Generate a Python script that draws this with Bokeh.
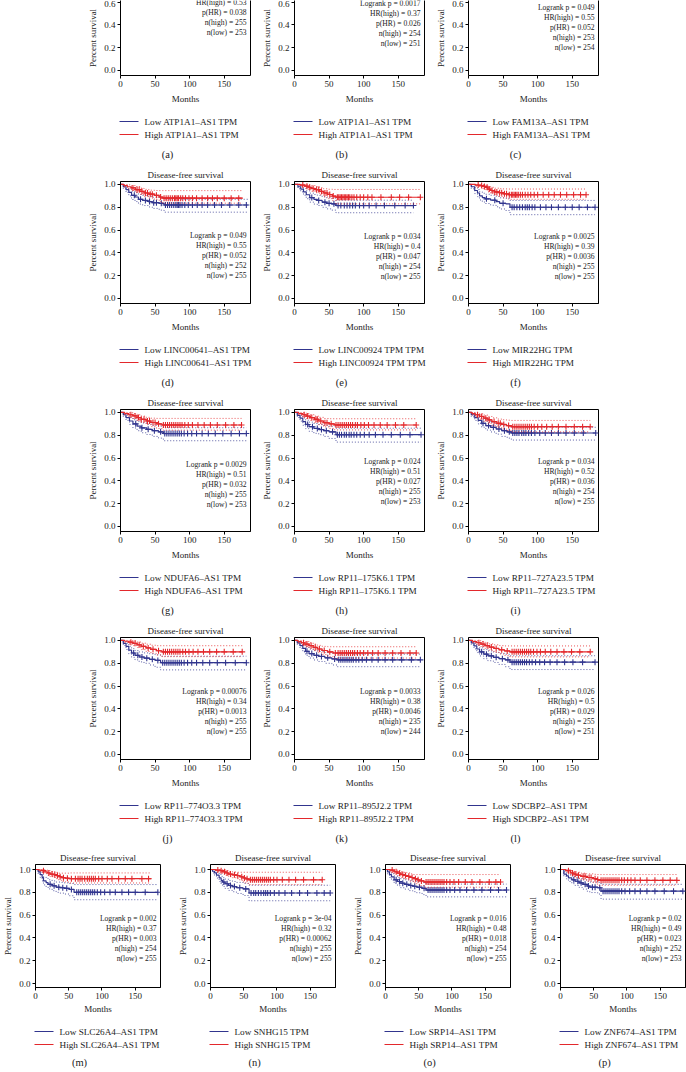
from bokeh.plotting import figure
from bokeh.layouts import column, row
from bokeh.models import Spacer, Range1d, FixedTicker, PrintfTickFormatter, LinearAxis
from bokeh.embed import file_html
from bokeh.resources import INLINE
from bokeh.core.properties import value

# ---------------- data ----------------
LETTERS = list("abcdefghijklmnop")
GENES = ["ATP1A1–AS1", "ATP1A1–AS1", "FAM13A–AS1", "LINC00641–AS1", "LINC00924 TPM",
         "MIR22HG", "NDUFA6–AS1", "RP11–175K6.1", "RP11–727A23.5", "RP11–774O3.3",
         "RP11–895J2.2", "SDCBP2–AS1", "SLC26A4–AS1", "SNHG15", "SRP14–AS1", "ZNF674–AS1"]
LOGRANK = ["", "0.0017", "0.049", "0.049", "0.034", "0.0025", "0.0029", "0.024", "0.034",
           "0.00076", "0.0033", "0.026", "0.002", "3e-04", "0.016", "0.02"]
HR = ["0.53", "0.37", "0.55", "0.55", "0.4", "0.39", "0.51", "0.51", "0.52", "0.34", "0.38",
      "0.5", "0.37", "0.32", "0.48", "0.49"]
P_HR = ["0.038", "0.026", "0.052", "0.052", "0.047", "0.0036", "0.032", "0.027", "0.036",
        "0.0013", "0.0046", "0.029", "0.003", "0.00062", "0.018", "0.023"]
N_HIGH = [255, 254, 253, 252, 254, 255, 255, 255, 254, 255, 235, 255, 254, 255, 254, 252]
N_LOW = [253, 251, 254, 255, 255, 255, 253, 253, 255, 255, 244, 251, 255, 255, 255, 253]

# Kaplan-Meier steps: (month, survival, lower CI, upper CI)
A_HIGH = []; A_LOW = []; A_HIGH_CENS = []; A_LOW_CENS = []
B_HIGH = []; B_LOW = []; B_HIGH_CENS = []; B_LOW_CENS = []
C_HIGH = []; C_LOW = []; C_HIGH_CENS = []; C_LOW_CENS = []

D_HIGH = [(0,1,1,1),(5,.99,.978,1),(10,.98,.962,.997),(16,.97,.948,.99),(22,.955,.93,.98),(28,.94,.912,.968),(34,.925,.894,.957),(41,.915,.881,.95),(49,.905,.867,.947),(56,.89,.85,.946),(61,.88,.836,.946),(177,.88,.836,.946)]
D_LOW = [(0,1,1,1),(4,.98,.962,.997),(8,.955,.93,.98),(12,.93,.9,.96),(16,.905,.868,.94),(21,.89,.85,.928),(26,.87,.828,.912),(32,.86,.815,.904),(40,.85,.803,.896),(46,.84,.79,.888),(56,.835,.775,.884),(63,.82,.757,.87),(184,.82,.757,.87)]
D_HIGH_CENS = [18,24,27,31,36,39,43,46,52,58,63,66,69,72,75,78,80,82,84,87,90,94,99,104,110,118,126,133,140,150,160,171]
D_LOW_CENS = [20,29,36,42,48,52,59,65,68,71,74,77,80,82,84,86,89,93,98,104,111,118,126,136,146,158,171,182]

E_HIGH = [(0,1,1,1),(8,.995,.985,1),(15,.985,.97,1),(20,.975,.955,.995),(25,.965,.94,.99),(30,.955,.928,.982),(36,.94,.91,.972),(42,.925,.892,.962),(48,.912,.876,.958),(55,.898,.858,.956),(60,.888,.83,.956),(182,.888,.83,.956)]
E_LOW = [(0,1,1,1),(5,.98,.962,.997),(9,.96,.935,.984),(13,.935,.905,.965),(17,.91,.875,.945),(22,.885,.845,.924),(28,.87,.828,.912),(33,.86,.816,.904),(40,.845,.8,.892),(46,.835,.786,.884),(54,.83,.775,.88),(60,.815,.752,.862),(172,.815,.752,.862)]
E_HIGH_CENS = [12,18,22,27,32,35,39,44,47,51,56,62,64,66,68,70,72,74,76,78,80,83,86,90,95,100,106,112,125,140,152,165,182]
E_LOW_CENS = [25,35,44,50,57,63,67,72,76,80,84,88,94,100,108,118,130,145,160,172]

F_HIGH = [(0,1,1,1),(10,.995,.985,1),(16,.99,.978,1),(20,.983,.966,.998),(24,.975,.955,.993),(28,.96,.935,.984),(32,.947,.92,.975),(38,.935,.904,.967),(44,.928,.895,.963),(50,.918,.882,.961),(58,.91,.87,.96),(170,.91,.87,.96)]
F_LOW = [(0,1,1,1),(4,.98,.962,.997),(9,.947,.92,.973),(13,.925,.893,.956),(16,.9,.864,.936),(20,.885,.846,.923),(24,.874,.833,.914),(32,.862,.818,.905),(40,.85,.804,.895),(45,.835,.785,.883),(54,.83,.772,.88),(60,.80,.735,.86),(183,.80,.735,.86)]
F_HIGH_CENS = [14,19,23,27,30,34,38,41,45,48,52,55,59,62,64,66,68,70,72,75,78,82,86,90,95,100,108,116,124,133,142,152,162,170]
F_LOW_CENS = [26,38,50,63,66,70,74,78,82,85,88,92,96,104,112,120,130,140,150,160,172,183]

G_HIGH = [(0,1,1,1),(6,.99,.978,1),(12,.98,.963,.997),(18,.97,.948,.99),(24,.955,.93,.98),(30,.94,.912,.968),(37,.925,.893,.957),(44,.912,.876,.95),(52,.9,.86,.948),(60,.89,.845,.948),(175,.89,.845,.948)]
G_LOW = [(0,1,1,1),(4,.98,.962,.997),(8,.955,.93,.98),(13,.925,.895,.955),(18,.9,.864,.936),(24,.88,.84,.92),(30,.865,.822,.908),(38,.852,.807,.897),(46,.84,.79,.887),(55,.83,.775,.879),(62,.815,.752,.866),(182,.815,.752,.866)]
G_HIGH_CENS = [15,21,26,30,34,39,42,47,50,55,62,65,68,71,74,77,80,83,86,89,93,98,104,112,121,130,140,152,164,175]
G_LOW_CENS = [22,31,40,49,58,64,67,70,73,76,79,82,85,88,92,97,103,110,118,127,137,148,160,172,182]

H_HIGH = [(0,1,1,1),(6,.99,.978,1),(12,.98,.963,.997),(17,.968,.946,.989),(23,.955,.93,.98),(29,.94,.912,.968),(35,.925,.893,.957),(42,.91,.874,.947),(50,.9,.86,.945),(58,.89,.847,.945),(176,.89,.847,.945)]
H_LOW = [(0,1,1,1),(4,.975,.956,.995),(8,.95,.924,.976),(12,.92,.888,.952),(16,.895,.858,.932),(21,.875,.835,.915),(28,.86,.817,.903),(35,.85,.805,.895),(42,.84,.79,.887),(50,.83,.772,.879),(60,.805,.74,.862),(183,.805,.74,.862)]
H_HIGH_CENS = [14,19,25,31,33,38,44,47,53,60,63,66,69,72,75,78,81,84,88,91,96,101,107,115,124,134,146,158,176]
H_LOW_CENS = [19,26,33,39,46,55,62,65,68,72,75,79,82,86,90,95,101,108,117,128,140,153,167,183]

I_HIGH = [(0,1,1,1),(5,.99,.978,1),(10,.98,.962,.997),(16,.965,.942,.988),(22,.95,.922,.977),(28,.935,.905,.965),(34,.92,.886,.953),(41,.905,.868,.942),(48,.895,.855,.936),(55,.885,.842,.932),(62,.875,.83,.93),(176,.875,.83,.93)]
I_LOW = [(0,1,1,1),(4,.98,.962,.997),(9,.955,.93,.98),(14,.93,.9,.96),(19,.905,.87,.94),(25,.885,.846,.924),(32,.87,.829,.911),(40,.855,.81,.899),(48,.84,.79,.887),(56,.83,.775,.879),(62,.82,.758,.87),(184,.82,.758,.87)]
I_HIGH_CENS = [13,19,25,30,37,43,46,51,58,64,67,70,73,76,79,82,85,88,91,95,100,106,113,121,130,141,153,165,176]
I_LOW_CENS = [21,29,36,44,52,59,64,67,70,73,77,80,83,87,91,96,103,111,120,130,141,153,166,184]

J_HIGH = [(0,1,1,1),(6,.993,.982,1),(12,.985,.97,1),(18,.975,.955,.995),(24,.962,.938,.986),(30,.948,.92,.976),(37,.935,.903,.967),(44,.922,.887,.958),(52,.91,.872,.954),(60,.9,.858,.954),(176,.9,.858,.954)]
J_LOW = [(0,1,1,1),(4,.975,.956,.995),(8,.948,.921,.975),(12,.915,.882,.948),(16,.89,.852,.928),(21,.87,.83,.911),(27,.855,.812,.899),(34,.845,.8,.891),(42,.835,.785,.883),(50,.825,.765,.875),(58,.805,.742,.862),(182,.805,.742,.862)]
J_HIGH_CENS = [15,21,27,33,40,47,55,62,65,68,71,74,77,80,83,86,90,94,99,105,112,120,129,139,150,163,176]
J_LOW_CENS = [19,25,31,38,46,54,61,64,67,70,73,76,79,82,85,88,92,97,103,110,119,129,140,152,166,182]

K_HIGH = [(0,1,1,1),(5,.99,.978,1),(10,.98,.962,.997),(15,.968,.946,.99),(21,.955,.93,.98),(27,.94,.912,.968),(33,.925,.893,.957),(40,.912,.876,.948),(48,.9,.86,.945),(56,.89,.846,.945),(176,.89,.846,.945)]
K_LOW = [(0,1,1,1),(4,.978,.96,.996),(8,.955,.93,.98),(12,.93,.9,.96),(16,.905,.87,.94),(21,.885,.846,.924),(28,.87,.829,.911),(35,.86,.816,.904),(44,.848,.8,.894),(54,.838,.785,.886),(62,.83,.77,.88),(182,.83,.77,.88)]
K_HIGH_CENS = [13,18,24,30,36,43,51,59,63,66,69,72,75,78,81,84,87,91,95,100,106,113,121,131,142,154,167,176]
K_LOW_CENS = [18,25,32,39,48,58,64,67,70,73,76,79,82,85,89,93,98,104,112,121,131,142,155,169,182]

L_HIGH = [(0,1,1,1),(6,.99,.978,1),(12,.98,.963,.997),(18,.968,.946,.99),(24,.955,.93,.98),(30,.942,.913,.97),(37,.93,.897,.962),(44,.918,.882,.955),(52,.908,.869,.952),(60,.9,.856,.952),(176,.9,.856,.952)]
L_LOW = [(0,1,1,1),(4,.978,.96,.996),(8,.952,.926,.978),(12,.925,.894,.956),(16,.9,.864,.936),(22,.88,.84,.92),(28,.865,.822,.908),(36,.852,.807,.897),(44,.84,.79,.887),(53,.83,.77,.879),(60,.81,.745,.866),(183,.81,.745,.866)]
L_HIGH_CENS = [15,21,27,33,40,48,56,63,66,69,72,75,78,81,84,87,90,94,99,104,111,119,128,138,149,161,176]
L_LOW_CENS = [19,26,33,40,49,57,63,66,69,72,75,78,81,84,88,92,97,103,110,118,128,139,151,165,183]

M_HIGH = [(0,1,1,1),(5,.995,.985,1),(10,.99,.977,1),(14,.98,.963,.996),(18,.97,.95,.99),(22,.96,.937,.983),(27,.955,.93,.98),(31,.947,.92,.975),(35,.937,.907,.968),(39,.928,.896,.968),(45,.924,.89,.968),(51,.92,.882,.97),(174,.92,.882,.97)]
M_LOW = [(0,1,1,1),(4,.98,.962,.997),(7,.956,.93,.98),(10,.93,.9,.96),(12,.9,.865,.935),(16,.885,.847,.923),(19,.87,.83,.91),(25,.857,.814,.9),(31,.845,.8,.89),(37,.84,.793,.887),(43,.835,.785,.883),(51,.825,.77,.877),(58,.80,.735,.868),(184,.80,.735,.868)]
M_HIGH_CENS = [12,20,25,29,33,37,42,48,54,60,64,67,70,74,78,81,84,87,90,95,100,108,115,125,135,145,160,170]
M_LOW_CENS = [22,28,35,41,47,54,62,65,68,71,74,77,80,83,86,89,93,98,104,112,120,130,140,150,165,184]

N_HIGH_S = [(0,1,1,1),(8,.995,.985,1),(14,.99,.977,1),(18,.98,.963,.996),(23,.97,.95,.99),(27,.96,.937,.983),(33,.953,.928,.978),(39,.947,.92,.976),(44,.936,.905,.976),(49,.926,.892,.976),(53,.918,.88,.976),(57,.91,.868,.976),(168,.91,.868,.976)]
N_LOW_S = [(0,1,1,1),(3,.985,.97,1),(6,.97,.95,.99),(9,.95,.925,.975),(13,.926,.895,.957),(16,.905,.87,.94),(18,.89,.852,.928),(22,.875,.834,.916),(27,.86,.817,.903),(33,.85,.805,.895),(39,.84,.79,.887),(49,.83,.772,.878),(58,.794,.726,.862),(180,.794,.726,.862)]
N_HIGH_CENS = [11,16,21,25,30,36,41,47,51,55,60,63,66,69,72,75,78,81,84,87,90,95,100,108,118,128,140,155,168]
N_LOW_CENS = [20,25,30,36,44,53,61,65,68,72,76,80,83,86,90,96,103,112,122,134,146,160,171,180]

O_HIGH = [(0,1,1,1),(7,.995,.985,1),(13,.98,.963,.996),(18,.968,.946,.99),(23,.956,.93,.98),(28,.948,.92,.975),(32,.94,.91,.97),(37,.93,.897,.962),(42,.92,.885,.956),(47,.91,.872,.956),(51,.9,.86,.956),(58,.89,.845,.956),(173,.89,.845,.956)]
O_LOW = [(0,1,1,1),(3,.98,.962,.997),(6,.956,.93,.98),(9,.935,.906,.963),(13,.91,.877,.943),(18,.895,.858,.93),(23,.88,.84,.918),(29,.87,.828,.91),(35,.86,.815,.903),(41,.853,.806,.897),(47,.845,.796,.892),(55,.835,.78,.885),(61,.82,.76,.872),(182,.82,.76,.872)]
O_HIGH_CENS = [10,16,21,26,30,35,40,45,49,54,61,64,67,70,73,76,79,82,85,88,92,97,103,110,120,130,142,156,166,173]
O_LOW_CENS = [16,21,26,32,38,44,51,58,64,67,70,73,76,79,82,85,88,92,97,104,112,122,133,145,158,170,182]

P_HIGH = [(0,1,1,1),(8,.99,.978,1),(15,.97,.948,.99),(20,.96,.936,.983),(24,.95,.923,.976),(31,.94,.91,.968),(39,.93,.897,.962),(49,.92,.884,.958),(54,.912,.872,.956),(58,.905,.862,.956),(175,.905,.862,.956)]
P_LOW = [(0,1,1,1),(5,.96,.94,.98),(9,.945,.918,.97),(12,.926,.895,.955),(17,.91,.876,.942),(22,.897,.86,.932),(28,.883,.843,.92),(34,.87,.828,.91),(40,.855,.81,.898),(44,.845,.798,.89),(56,.84,.785,.888),(61,.81,.74,.87),(184,.81,.74,.87)]
P_HIGH_CENS = [12,18,22,27,34,37,43,46,52,56,61,64,67,70,73,76,79,82,85,88,92,96,101,106,112,120,130,142,154,165,175]
P_LOW_CENS = [20,26,31,37,42,48,52,59,64,67,70,73,76,79,82,85,88,92,97,104,112,120,130,142,156,170,184]

X_TICKS = [0, 50, 100, 150]
Y_TICKS = [0.0, 0.2, 0.4, 0.6, 0.8, 1.0]

CURVES = [
    (A_HIGH, A_LOW, A_HIGH_CENS, A_LOW_CENS), (B_HIGH, B_LOW, B_HIGH_CENS, B_LOW_CENS),
    (C_HIGH, C_LOW, C_HIGH_CENS, C_LOW_CENS), (D_HIGH, D_LOW, D_HIGH_CENS, D_LOW_CENS),
    (E_HIGH, E_LOW, E_HIGH_CENS, E_LOW_CENS), (F_HIGH, F_LOW, F_HIGH_CENS, F_LOW_CENS),
    (G_HIGH, G_LOW, G_HIGH_CENS, G_LOW_CENS), (H_HIGH, H_LOW, H_HIGH_CENS, H_LOW_CENS),
    (I_HIGH, I_LOW, I_HIGH_CENS, I_LOW_CENS), (J_HIGH, J_LOW, J_HIGH_CENS, J_LOW_CENS),
    (K_HIGH, K_LOW, K_HIGH_CENS, K_LOW_CENS), (L_HIGH, L_LOW, L_HIGH_CENS, L_LOW_CENS),
    (M_HIGH, M_LOW, M_HIGH_CENS, M_LOW_CENS), (N_HIGH_S, N_LOW_S, N_HIGH_CENS, N_LOW_CENS),
    (O_HIGH, O_LOW, O_HIGH_CENS, O_LOW_CENS), (P_HIGH, P_LOW, P_HIGH_CENS, P_LOW_CENS),
]

# ---------------- style / layout ----------------
FONT = "Liberation Serif"
TXT = "#222222"
RED = "#E3282C"
BLUE = "#31358E"
XMAX = 188
STAT_TOP = [0.682, 0.588, 0.553, 0.553, 0.544, 0.544, 0.544, 0.57, 0.57,
            0.553, 0.553, 0.553, 0.57, 0.57, 0.57, 0.57]
STAT_STEP = 0.087


def surv_at(curve, t):
    s = 1.0
    for c in curve:
        if c[0] <= t:
            s = c[1]
    return s


def draw_curve(p, curve, cens, color):
    t = [c[0] for c in curve]
    s = [c[1] for c in curve]
    lo = [c[2] for c in curve]
    up = [c[3] for c in curve]
    p.step(x=t, y=lo, mode="after", line_color=color, line_width=0.8, line_dash="1 2")
    p.step(x=t, y=up, mode="after", line_color=color, line_width=0.8, line_dash="1 2")
    p.step(x=t, y=s, mode="after", line_color=color, line_width=1.2)
    if cens:
        p.scatter(x=cens, y=[surv_at(curve, c) for c in cens], marker="cross", size=6,
                  line_color=color, line_width=1.1)


def make_panel(i, W, H, y0, y1, L, R, T, B, top_cut, lab_standoff):
    p = figure(frame_width=W, frame_height=H, x_range=Range1d(0, XMAX),
               y_range=Range1d(y0, y1), output_backend="svg", toolbar_location=None,
               min_border_left=L, min_border_right=R, min_border_top=T,
               min_border_bottom=B)
    p.grid.visible = False
    p.background_fill_color = "white"
    p.border_fill_color = "white"
    xa = p.below[0]
    ya = p.left[0]
    for ax in (xa, ya):
        ax.axis_line_color = "black"
        ax.axis_line_width = 1
        ax.major_tick_line_color = "black"
        ax.major_tick_out = 3
        ax.major_tick_in = 0
        ax.minor_tick_line_color = None
        ax.major_label_standoff = 2
        ax.major_label_text_font = FONT
        ax.major_label_text_font_size = "9px"
        ax.major_label_text_color = TXT
        ax.axis_label_text_font = FONT
        ax.axis_label_text_font_size = "9px"
        ax.axis_label_text_font_style = "normal"
        ax.axis_label_text_color = TXT
    xa.ticker = FixedTicker(ticks=X_TICKS)
    ya.ticker = FixedTicker(ticks=Y_TICKS)
    ya.formatter = PrintfTickFormatter(format="%.1f")
    xa.axis_label = "Months"
    xa.axis_label_standoff = lab_standoff
    ya.axis_label = "Percent survival"
    ya.axis_label_standoff = 3
    if top_cut:
        p.outline_line_color = None
        ra = LinearAxis(ticker=FixedTicker(ticks=[]), axis_line_color="black",
                        major_tick_line_color=None, minor_tick_line_color=None,
                        major_label_text_font_size="0px")
        p.add_layout(ra, "right")
    else:
        p.outline_line_color = "black"
        p.outline_line_width = 1
        p.outline_line_alpha = 1.0
        p.title.text = "Disease-free survival"
        p.title.align = "center"
        p.title.text_font = FONT
        p.title.text_font_size = "9px"
        p.title.text_font_style = "normal"
        p.title.text_color = TXT
        p.title.standoff = 3
        p.title.offset = -3

    high, low, hc, lc = CURVES[i]
    draw_curve(p, low, lc, BLUE)
    draw_curve(p, high, hc, RED)

    lines = ["Logrank p = " + LOGRANK[i] if LOGRANK[i] else "",
             "HR(high) = " + HR[i], "p(HR) = " + P_HR[i],
             "n(high) = " + str(N_HIGH[i]), "n(low) = " + str(N_LOW[i])]
    ys = [STAT_TOP[i] - k * STAT_STEP for k in range(len(lines))]
    p.text(x=[XMAX] * len(lines), y=ys, text=lines, text_align="right",
           text_baseline="middle", text_font=value(FONT), text_font_size="7.6px",
           text_color=TXT, x_offset=-4)
    return p


def make_info(i, L, W, R, y_top, y_bot, leg1, leg2, cap_x, cap_y):
    # coordinates are pixels relative to the plot frame's bottom-left corner
    q = figure(frame_width=L + W + R, frame_height=y_top - y_bot,
               x_range=Range1d(-L, W + R), y_range=Range1d(y_bot, y_top),
               x_axis_type=None, y_axis_type=None, toolbar_location=None,
               output_backend="svg", min_border=0, min_border_left=0,
               min_border_right=0, min_border_top=0, min_border_bottom=0)
    q.outline_line_color = None
    q.grid.visible = False
    q.background_fill_color = "white"
    q.border_fill_color = "white"
    q.segment(x0=[-1, -1], y0=[leg1, leg2], x1=[18, 18], y1=[leg1, leg2],
              line_color=[BLUE, RED], line_width=1)
    q.text(x=[24, 24], y=[leg1, leg2],
           text=["Low " + GENES[i] + " TPM", "High " + GENES[i] + " TPM"],
           text_align="left", text_baseline="middle", text_font=value(FONT),
           text_font_size="9.2px", text_color=TXT)
    q.text(x=[cap_x], y=[cap_y], text=["(" + LETTERS[i] + ")"], text_align="center",
           text_baseline="middle", text_font=value(FONT), text_font_size="10.5px",
           text_color=TXT)
    return q


rows = []
LB = 35
# row 1 (cut at the top of the page)
figs = [make_panel(i, 130, 75, -0.044, 0.614, LB, 9, 0, 33, True, 4) for i in range(0, 3)]
infos = [make_info(i, LB, 130, 9, -33, -90, -46, -59, 47, -79) for i in range(0, 3)]
rows.append(row(Spacer(width=85, height=10), *figs))
rows.append(row(Spacer(width=85, height=10), *infos))
for r in range(1, 4):
    idx = range(3 * r, 3 * r + 3)
    figs = [make_panel(i, 130, 122, -0.044, 1.026, LB, 9, 16, 33, False, 4) for i in idx]
    infos = [make_info(i, LB, 130, 9, -33, -90, -46, -59, 47, -79) for i in idx]
    rows.append(row(Spacer(width=85, height=10), *figs))
    rows.append(row(Spacer(width=85, height=10), *infos))
figs, infos = [], []
for k, i in enumerate(range(12, 16)):
    Rb = 15 if k < 3 else 1
    figs.append(make_panel(i, 125, 123, -0.035, 1.044, LB, Rb, 14, 30, False, 2))
    infos.append(make_info(i, LB, 125, Rb, -30, -84, -44, -57, 44, -75))
rows.append(row(*figs))
rows.append(row(*infos))

layout = column(*rows)
open("out.html", "w").write(file_html(layout, INLINE))
